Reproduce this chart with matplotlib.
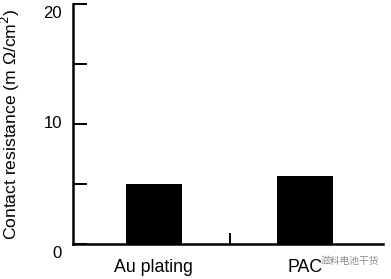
import matplotlib
matplotlib.use("Agg")
import matplotlib.pyplot as plt
from matplotlib.transforms import offset_copy

plt.rcParams['font.family'] = ['Liberation Sans', 'DejaVu Sans']

categories = ["Au plating", "PAC"]
values = [5.0, 5.7]
ytick_values = [0, 5, 10, 15, 20]
ytick_labels = ["0", "", "10", "", "20"]
ylabel_text = "Contact resistance (m \u03a9/cm$^2$)"
watermark = "滋料电池干货"

fig = plt.figure(figsize=(3.91, 2.79), dpi=100)
ax = fig.add_axes([73/391, 1-244/279, 310/391, 240/279])

x = list(range(len(categories)))
ax.bar(x, values, width=0.37, color='black', edgecolor='none', zorder=3)

ax.set_xlim(-0.535, 1.515)
ax.set_ylim(0, 20)

for s in ['top', 'right']:
    ax.spines[s].set_visible(False)
for s in ['left', 'bottom']:
    ax.spines[s].set_linewidth(1.8)
    ax.spines[s].set_zorder(4)

# y ticks: inward, labels drawn manually
ax.set_yticks(ytick_values)
ax.set_yticklabels([])
ax.tick_params(axis='y', direction='in', length=10, width=1.4, color='black')

offsets = {0: -10, 10: 0, 20: -9}
for v, lab in zip(ytick_values, ytick_labels):
    if lab:
        tr = offset_copy(ax.get_yaxis_transform(), fig=fig, x=-11, y=offsets[v], units='dots')
        ax.text(0, v, lab, transform=tr, ha='right', va='center', fontsize=12, color='black')

# x: tick between categories, labels at category positions
ax.set_xticks([0.5])
ax.set_xticklabels([])
ax.tick_params(axis='x', which='major', direction='in', length=8, width=1.4)
ax.set_xticks(x, minor=True)
ax.set_xticklabels(categories, minor=True, fontsize=12.8)
ax.tick_params(axis='x', which='minor', length=0, pad=10.5)

ax.set_ylabel(ylabel_text, fontsize=12.6)
ax.yaxis.set_label_coords(-0.165, 0.5)

fig.text(379/391, 1-261/279, watermark, ha='right', va='center', fontsize=7,
         color='#888888', family=['Noto Sans CJK SC', 'DejaVu Sans'])

fig.savefig("out.png", dpi=100)
